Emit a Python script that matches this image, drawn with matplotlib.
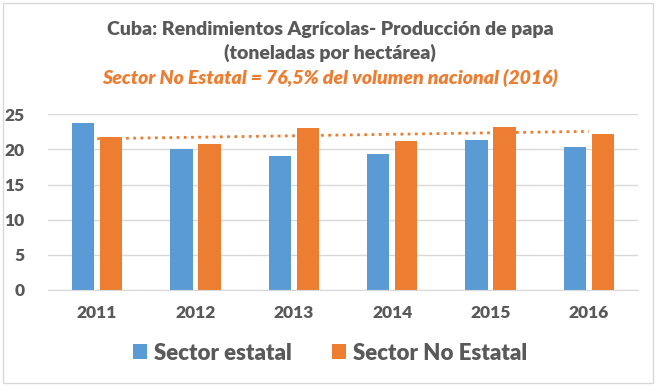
import numpy as np
import matplotlib.pyplot as plt
from matplotlib.patches import Rectangle

years = ['2011', '2012', '2013', '2014', '2015', '2016']
estatal = [23.8, 20.1, 19.1, 19.3, 21.4, 20.3]
no_estatal = [21.8, 20.8, 23.1, 21.2, 23.2, 22.2]

blue = '#5B9BD5'
orange = '#ED7D31'
gray = '#595959'

plt.rcParams['font.family'] = ['Lato', 'DejaVu Sans']

W, H = 660, 387
fig = plt.figure(figsize=(W / 100, H / 100), dpi=100)

# outer chart border
fig.add_artist(Rectangle((3 / W, 4 / H), 650 / W, 380 / H, transform=fig.transFigure,
                         fill=False, edgecolor='#D9D9D9', linewidth=1))

ax = fig.add_axes([48 / W, 97 / H, 590 / W, 175.7 / H])
x = np.arange(len(years))
bw = 0.225
ax.bar(x - 0.143, estatal, bw, color=blue, label='Sector estatal', zorder=2)
ax.bar(x + 0.143, no_estatal, bw, color=orange, label='Sector No Estatal', zorder=2)

# linear trend of the non-state sector
coef = np.polyfit(x, no_estatal, 1)
ax.plot(x, np.polyval(coef, x), linestyle=(0, (1, 1.6)), color=orange, linewidth=2, zorder=3)

ax.set_xlim(-0.5, 5.5)
ax.set_ylim(0, 25)
ax.set_yticks([0, 5, 10, 15, 20, 25])
ax.set_xticks(x)
ax.set_xticklabels(years)
ax.grid(axis='y', color='#D9D9D9', linewidth=1, zorder=0)
for s in ['top', 'right', 'left']:
    ax.spines[s].set_visible(False)
ax.spines['bottom'].set_color('#D9D9D9')
ax.tick_params(length=0, labelsize=12.5, labelcolor=gray, pad=11)
ax.tick_params(axis='y', pad=17)
for lbl in ax.get_xticklabels() + ax.get_yticklabels():
    lbl.set_fontweight('heavy')

fig.text(0.5, 1 - 30 / H, 'Cuba: Rendimientos Agrícolas- Producción de papa', ha='center', va='center',
         fontsize=14, fontweight='heavy', color=gray)
fig.text(0.5, 1 - 53 / H, '(toneladas por hectárea)', ha='center', va='center',
         fontsize=14, fontweight='heavy', color=gray)
fig.text(0.5, 1 - 78 / H, 'Sector No Estatal = 76,5% del volumen nacional (2016)', ha='center', va='center',
         fontsize=14, fontweight='heavy', fontstyle='italic', color=orange)

fig.legend(loc='center', bbox_to_anchor=(0.5, 1 - 353 / H), ncol=2, frameon=False,
           prop={'size': 16, 'weight': 'heavy'}, labelcolor=gray, handlelength=0.65, handleheight=0.65,
           handletextpad=0.3, columnspacing=1.8)

fig.savefig('out.png', dpi=100)
